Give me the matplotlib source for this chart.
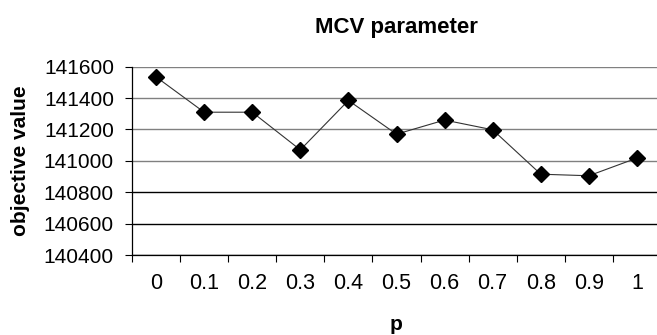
import matplotlib
matplotlib.use("Agg")
import matplotlib.pyplot as plt

# MCV parameter sweep: objective value for each p
p_labels = ["0", "0.1", "0.2", "0.3", "0.4", "0.5", "0.6", "0.7", "0.8", "0.9", "1"]
objective = [141535, 141310, 141310, 141070, 141385, 141170, 141260, 141198, 140915, 140905, 141018]
y_ticks = [140400, 140600, 140800, 141000, 141200, 141400, 141600]

plt.rcParams["font.family"] = ["Liberation Sans", "DejaVu Sans"]

fig = plt.figure(figsize=(6.57, 3.35), dpi=100)
ax = fig.add_axes([132 / 657, 1 - 255 / 335, (661 - 132) / 657, (255 - 66.7) / 335])

x = list(range(len(p_labels)))
ax.plot(x, objective, color="#333333", linewidth=0.8, marker="D",
        markersize=8.5, markerfacecolor="black", markeredgecolor="black", zorder=3)

ax.set_xlim(-0.5, len(p_labels) - 0.5)
ax.set_ylim(y_ticks[0], y_ticks[-1])
ax.set_yticks(y_ticks)
ax.set_yticklabels([str(v) for v in y_ticks])

# category labels sit between the boundary tick marks
ax.set_xticks(x)
ax.set_xticklabels(p_labels)
ax.set_xticks([i - 0.5 for i in range(len(p_labels) + 1)], minor=True)
ax.tick_params(axis="x", which="major", length=0, pad=13, labelsize=15.5)
ax.tick_params(axis="x", which="minor", length=5, width=0.8, direction="out")
ax.tick_params(axis="y", length=5, width=0.8, direction="out", pad=8, labelsize=15)

ax.yaxis.grid(True, linewidth=1.0)
for val, gl in zip(y_ticks, ax.get_ygridlines()):
    gl.set_color("#808080" if val >= 141000 else "black")

for side in ("top", "right"):
    ax.spines[side].set_visible(False)
for side in ("left", "bottom"):
    ax.spines[side].set_linewidth(0.9)
    ax.spines[side].set_color("black")

ax.set_title("MCV parameter", fontsize=16, fontweight="bold", pad=24)
ax.set_ylabel("objective value", fontsize=15, fontweight="bold", labelpad=10)
ax.set_xlabel("p", fontsize=15, fontweight="bold", labelpad=15)

fig.savefig("out.png", dpi=100)
